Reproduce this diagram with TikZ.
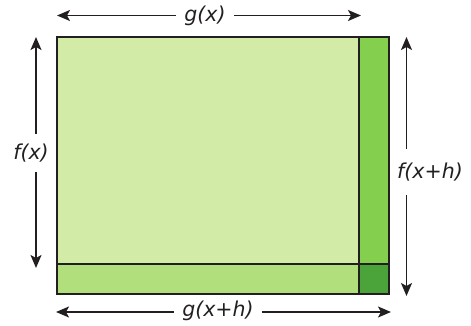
\documentclass[tikz,border=0pt]{standalone}
\usepackage{fontspec}
\setmainfont{DejaVu Sans}
\usetikzlibrary{arrows.meta}
\definecolor{mainG}{HTML}{D2EBA6}
\definecolor{rightG}{HTML}{85CF4E}
\definecolor{botG}{HTML}{B0DF7B}
\definecolor{cornG}{HTML}{4BA43A}
\definecolor{edge}{HTML}{231F20}
\tikzset{
  box/.style={draw=edge, line width=2.4pt},
  dim/.style={draw=edge, line width=1.6pt, -{Stealth[length=13pt,width=11pt,inset=3pt]}},
  lab/.style={font=\fontsize{20.5}{24}\selectfont\itshape, text=edge, inner sep=0pt}
}
\begin{document}
\begin{tikzpicture}[x=1pt,y=-1pt]
\useasboundingbox (0,0) rectangle (471,326);
% regions
\fill[mainG] (57,37) rectangle (359,264);
\fill[rightG] (359,37) rectangle (389,264);
\fill[botG] (57,264) rectangle (359,294);
\fill[cornG] (359,264) rectangle (389,294);
\draw[box] (359,37) -- (359,294);
\draw[box] (57,264) -- (389,264);
\draw[box] (57,37) rectangle (389,294);
% labels
\node[lab] (gx) at (205,15.5) {g(x)};
\node[lab] (gxh) at (218,311) {g(x+h)};
\node[lab] (fx) at (31,153) {f(x)};
\node[lab] (fxh) at (430,172) {f(x+h)};
% arrow ends
\coordinate (tA) at (57,15.5);
\coordinate (tB) at (361,15.5);
\coordinate (bA) at (56,312);
\coordinate (bB) at (391,312);
\coordinate (lA) at (36,37);
\coordinate (lB) at (36,268);
\coordinate (rA) at (406.5,37);
\coordinate (rB) at (406.5,296);
% arrows
\draw[dim] ([xshift=-8pt]gx.west) -- (tA);
\draw[dim] ([xshift=8pt]gx.east) -- (tB);
\draw[dim] ([xshift=-8pt]gxh.west |- bA) -- (bA);
\draw[dim] ([xshift=8pt]gxh.east |- bB) -- (bB);
\draw[dim] (lA |- fx.north) ++(0,-10) -- (lA);
\draw[dim] (lB |- fx.south) ++(0,10) -- (lB);
\draw[dim] (rA |- fxh.north) ++(0,-14) -- (rA);
\draw[dim] (rB |- fxh.south) ++(0,14) -- (rB);
\end{tikzpicture}
\end{document}
